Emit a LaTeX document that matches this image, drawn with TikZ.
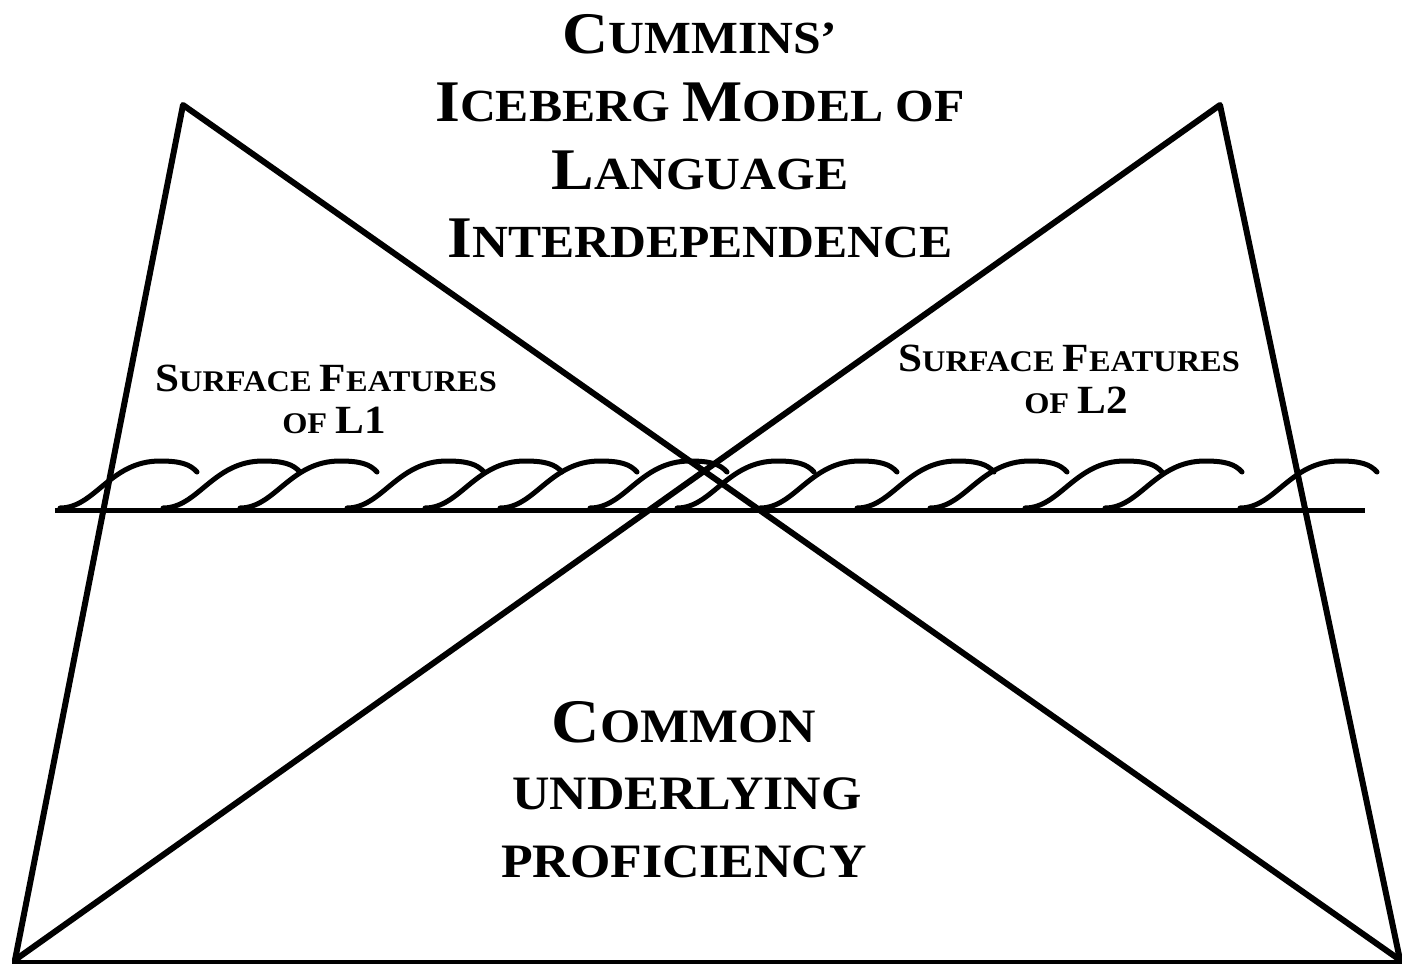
\documentclass[tikz,border=0pt]{standalone}
\usepackage{fontspec}
\usepackage{graphicx}
\setmainfont{Liberation Serif}
\newcommand{\tcap}{\fontsize{59}{59}\selectfont}
\newcommand{\tsc}{\fontsize{46}{46}\selectfont}
\newcommand{\scap}{\fontsize{40}{40}\selectfont}
\newcommand{\ssc}{\fontsize{30}{30}\selectfont}
\newcommand{\mycap}{\fontsize{62}{62}\selectfont}
\newcommand{\mysc}{\fontsize{48}{48}\selectfont}
\newcommand{\widen}[1]{\scalebox{1.08}[1]{#1}}
\tikzset{
  edge/.style={line width=6pt, line cap=round, line join=round},
  waterline/.style={line width=5pt},
  wave/.style={line width=5pt, line cap=round},
  lbl/.style={anchor=base, inner sep=0pt, font=\bfseries},
}
\begin{document}
\begin{tikzpicture}[x=1pt,y=-1pt]
\useasboundingbox[fill=white] (0,0) rectangle (1402,966);
% corners
\coordinate (A1) at (183,105);
\coordinate (A2) at (1220,105);
\coordinate (BL) at (15,960);
\coordinate (BR) at (1400,960);
\coordinate (W1) at (55,510);
\coordinate (W2) at (1365,510);
\coordinate (G1) at (12,962);
\coordinate (G2) at (1402,962);
% waves
\foreach \c in {160,263,340,447,525,600,690,777,860,957,1030,1125,1205,1340}{
  \draw[wave] (\c-100,508) .. controls (\c-65,508) and (\c-50,461) .. (\c,461)
     .. controls (\c+20,461) and (\c+30,464) .. (\c+37,472);
}
% water line and bottom
\draw[waterline] (W1) -- (W2);
\draw[line width=4pt] (G1) -- (G2);
% triangles
\draw[edge] (BL) -- (A1) -- (BR);
\draw[edge] (BL) -- (A2) -- (BR);
% title
\node[lbl] (t1) at (700,53) {\widen{{\tcap C}{\tsc UMMINS’}}};
\node[lbl] (t2) at (700,121) {\widen{{\tcap I}{\tsc CEBERG }{\tcap M}{\tsc ODEL OF}}};
\node[lbl] (t3) at (700,189) {\widen{{\tcap L}{\tsc ANGUAGE}}};
\node[lbl] (t4) at (700,257) {\widen{{\tcap I}{\tsc NTERDEPENDENCE}}};
% surface features
\node[lbl] (s1a) at (326,391) {\widen{{\scap S}{\ssc URFACE }{\scap F}{\ssc EATURES}}};
\node[lbl] (s1b) at (334,433) {\widen{{\ssc OF }{\scap L1}}};
\node[lbl] (s2a) at (1069,371) {\widen{{\scap S}{\ssc URFACE }{\scap F}{\ssc EATURES}}};
\node[lbl] (s2b) at (1076,413) {\widen{{\ssc OF }{\scap L2}}};
% common underlying proficiency
\node[lbl] (c1) at (684,742) {\widen{{\mycap C}{\mysc OMMON}}};
\node[lbl] (c2) at (687,809) {\widen{{\mysc UNDERLYING}}};
\node[lbl] (c3) at (684,877) {\widen{{\mysc PROFICIENCY}}};
\end{tikzpicture}
\end{document}
